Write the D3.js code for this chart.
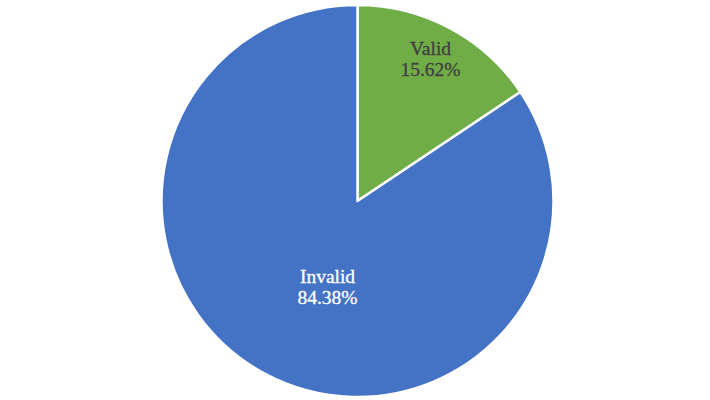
<!DOCTYPE html>
<html><head><meta charset="utf-8">
<script src="https://cdn.jsdelivr.net/npm/d3@7"></script>
<style>body{margin:0;background:#fff}svg{display:block}</style>
</head><body>
<svg id="c" width="710" height="400"></svg>
<script>
const categories = ["Valid", "Invalid"];
const values = [15.62, 84.38];
const labels = ["15.62%", "84.38%"];
const colors = ["#70AD47", "#4472C4"];
const textColors = ["#404040", "#ffffff"];

const svg = d3.select("#c");
const cx = 357.5, cy = 201, r = 196;
const g = svg.append("g").attr("transform", `translate(${cx},${cy})`);
const pie = d3.pie().sort(null).value(d => d)(values);
const arc = d3.arc().innerRadius(0).outerRadius(r);
g.selectAll("path").data(pie).join("path")
  .attr("d", arc).attr("fill", (d,i) => colors[i])
  .attr("stroke", "#fff").attr("stroke-width", 2.5).attr("stroke-linejoin", "round");

const labelPos = [[73, -146], [-30, 82]];
pie.forEach((d, i) => {
  const t = g.append("text").attr("text-anchor", "middle")
    .style("font-family", "'Liberation Serif', 'Times New Roman', serif")
    .attr("font-size", 19.5).attr("fill", textColors[i])
    .attr("stroke", textColors[i]).attr("stroke-width", 0.3)
    .attr("transform", `translate(${labelPos[i][0]},${labelPos[i][1]})`);
  t.append("tspan").attr("x", 0).attr("dy", 0).text(categories[i]);
  t.append("tspan").attr("x", 0).attr("dy", 21).text(labels[i]);
});
</script>
</body></html>
